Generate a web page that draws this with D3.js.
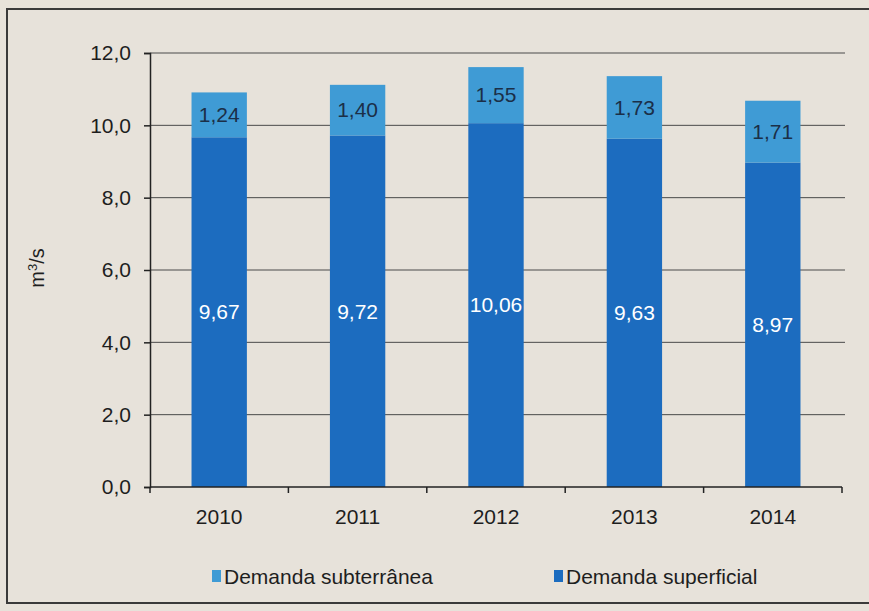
<!DOCTYPE html>
<html>
<head>
<meta charset="utf-8">
<script src="https://cdn.jsdelivr.net/npm/d3@7"></script>
<style>
  body { margin: 0; background: #e7e2da; }
  svg text { font-family: "Liberation Sans", Arial, sans-serif; }
</style>
</head>
<body>
<svg id="chart" width="869" height="611"></svg>
<script>
const years = ["2010", "2011", "2012", "2013", "2014"];
const superficial = [9.67, 9.72, 10.06, 9.63, 8.97];
const subterranea = [1.24, 1.40, 1.55, 1.73, 1.71];
const yTicks = [0, 2, 4, 6, 8, 10, 12];
const seriesNames = ["Demanda subterrânea", "Demanda superficial"];

const colors = { sup: "#1c6cbf", sub: "#3f9bd5" };
const fmt = v => v.toFixed(2).replace(".", ",");

const svg = d3.select("#chart");

// paper frame
svg.append("rect")
  .attr("x", 7).attr("y", 9)
  .attr("width", 870).attr("height", 594)
  .attr("fill", "#e7e2da")
  .attr("stroke", "#3a3a3a")
  .attr("stroke-width", 2);

const margin = { top: 53, left: 150, right: 27, bottom: 124 };
const w = 869 - margin.left - margin.right;
const h = 611 - margin.top - margin.bottom;

const g = svg.append("g").attr("transform", `translate(${margin.left},${margin.top})`);

const x = d3.scaleBand().domain(years).range([0, w]).paddingInner(0.6).paddingOuter(0.3);
const y = d3.scaleLinear().domain([0, 12]).range([h, 0]);

// gridlines
g.selectAll(".grid")
  .data(yTicks.filter(d => d > 0))
  .enter().append("line")
  .attr("x1", 0).attr("x2", w + 3)
  .attr("y1", d => y(d)).attr("y2", d => y(d))
  .attr("stroke", "#4a4a4a")
  .attr("stroke-width", 1);

const rows = years.map((yr, i) => ({ year: yr, sup: superficial[i], sub: subterranea[i] }));

// stacked bars
g.selectAll(".sup")
  .data(rows).enter().append("rect")
  .attr("x", d => x(d.year))
  .attr("width", x.bandwidth())
  .attr("y", d => y(d.sup))
  .attr("height", d => h - y(d.sup))
  .attr("fill", colors.sup);

g.selectAll(".sub")
  .data(rows).enter().append("rect")
  .attr("x", d => x(d.year))
  .attr("width", x.bandwidth())
  .attr("y", d => y(d.sup + d.sub))
  .attr("height", d => y(d.sup) - y(d.sup + d.sub))
  .attr("fill", colors.sub);

// value labels
g.selectAll(".lsup")
  .data(rows).enter().append("text")
  .attr("x", d => x(d.year) + x.bandwidth() / 2)
  .attr("y", d => (y(d.sup) + y(0)) / 2)
  .attr("dy", "0.35em")
  .attr("text-anchor", "middle")
  .attr("fill", "#ffffff")
  .style("font-size", "21px")
  .text(d => fmt(d.sup));

g.selectAll(".lsub")
  .data(rows).enter().append("text")
  .attr("x", d => x(d.year) + x.bandwidth() / 2)
  .attr("y", d => (y(d.sup) + y(d.sup + d.sub)) / 2)
  .attr("dy", "0.35em")
  .attr("text-anchor", "middle")
  .attr("fill", "#1b2f48")
  .style("font-size", "21px")
  .text(d => fmt(d.sub));

// y axis
const yAxis = g.append("g")
  .call(d3.axisLeft(y).tickValues(yTicks).tickSize(6).tickFormat(d => d.toFixed(1).replace(".", ",")));
yAxis.select(".domain").attr("stroke", "#222").attr("stroke-width", 1.5);
yAxis.selectAll(".tick line").attr("stroke", "#222").attr("stroke-width", 1.5);
yAxis.selectAll("text").style("font-size", "21px").attr("fill", "#1e1e1e").attr("x", -19);

// x axis with category boundary ticks
const xAxisG = g.append("g").attr("transform", `translate(0,${h})`);
xAxisG.append("line")
  .attr("x1", 0).attr("x2", w)
  .attr("stroke", "#222").attr("stroke-width", 1.5);
xAxisG.selectAll(".bt")
  .data(d3.range(years.length + 1))
  .enter().append("line")
  .attr("x1", i => i * x.step())
  .attr("x2", i => i * x.step())
  .attr("y1", 0).attr("y2", 6)
  .attr("stroke", "#222").attr("stroke-width", 1.5);
xAxisG.selectAll(".xl")
  .data(years).enter().append("text")
  .attr("x", d => x(d) + x.bandwidth() / 2)
  .attr("y", 37)
  .attr("text-anchor", "middle")
  .attr("fill", "#1e1e1e")
  .style("font-size", "21px")
  .text(d => d);

// y title
svg.append("text")
  .attr("transform", "translate(44,268) rotate(-90)")
  .attr("text-anchor", "middle")
  .attr("fill", "#1e1e1e")
  .style("font-size", "20px")
  .html("m<tspan dy='-7' font-size='13px'>3</tspan><tspan dy='7'>/s</tspan>");

// legend
const legend = svg.append("g");
const legendItems = [
  { name: seriesNames[0], color: colors.sub, x: 212 },
  { name: seriesNames[1], color: colors.sup, x: 554 }
];
legendItems.forEach(it => {
  legend.append("rect")
    .attr("x", it.x).attr("y", 570)
    .attr("width", 9).attr("height", 12)
    .attr("fill", it.color);
  legend.append("text")
    .attr("x", it.x + 12).attr("y", 584)
    .attr("fill", "#1e1e1e")
    .style("font-size", "21px")
    .text(it.name);
});
</script>
</body>
</html>
